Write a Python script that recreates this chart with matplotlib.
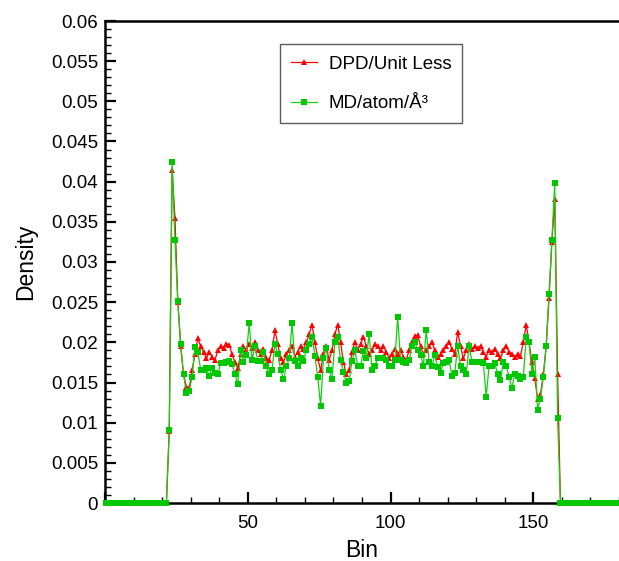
import numpy as np
import matplotlib
matplotlib.use("Agg")
import matplotlib.pyplot as plt
from matplotlib.ticker import MultipleLocator, FuncFormatter

plt.rcParams['font.family'] = ['Liberation Sans', 'DejaVu Sans']

# ---- data ----
n_bins = 180
bin_centers = np.arange(n_bins) + 0.5

lead_zeros = 22   # bins before the first wall

md_core = [
    0.0091, 0.0425, 0.0327, 0.0251, 0.0198, 0.0160, 0.0137, 0.0140, 0.0157, 0.0194,   # 22-31
    0.0188, 0.0166, 0.0166, 0.0168, 0.0158, 0.0168, 0.0162, 0.0160, 0.0174, 0.0174,   # 32-41
    0.0176, 0.0177, 0.0173, 0.0160, 0.0148, 0.0190, 0.0176, 0.0184, 0.0224, 0.0178,   # 42-51
    0.0195, 0.0177, 0.0177, 0.0188, 0.0170, 0.0160, 0.0166, 0.0198, 0.0186, 0.0166,   # 52-61
    0.0154, 0.0170, 0.0180, 0.0224, 0.0177, 0.0171, 0.0180, 0.0177, 0.0190, 0.0198,   # 62-71
    0.0207, 0.0183, 0.0157, 0.0121, 0.0180, 0.0193, 0.0165, 0.0154, 0.0200, 0.0207,   # 72-81
    0.0178, 0.0163, 0.0150, 0.0152, 0.0177, 0.0190, 0.0171, 0.0171, 0.0189, 0.0181,   # 82-91
    0.0210, 0.0165, 0.0170, 0.0181, 0.0181, 0.0180, 0.0178, 0.0171, 0.0171, 0.0178,   # 92-101
    0.0231, 0.0178, 0.0176, 0.0174, 0.0178, 0.0196, 0.0200, 0.0191, 0.0184, 0.0171,   # 102-111
    0.0215, 0.0176, 0.0171, 0.0184, 0.0169, 0.0162, 0.0174, 0.0176, 0.0178, 0.0158,   # 112-121
    0.0162, 0.0196, 0.0171, 0.0165, 0.0161, 0.0195, 0.0176, 0.0176, 0.0176, 0.0176,   # 122-131
    0.0174, 0.0132, 0.0171, 0.0171, 0.0174, 0.0161, 0.0153, 0.0176, 0.0171, 0.0157,   # 132-141
    0.0143, 0.0161, 0.0158, 0.0154, 0.0157, 0.0207, 0.0200, 0.0161, 0.0182, 0.0116,   # 142-151
    0.0130, 0.0157, 0.0195, 0.0260, 0.0327, 0.0398, 0.0106,                           # 152-158
]

dpd_core = [
    0.0090, 0.0415, 0.0355, 0.0250, 0.0195, 0.0160, 0.0145, 0.0143, 0.0165, 0.0185,   # 22-31
    0.0205, 0.0195, 0.0188, 0.0180, 0.0188, 0.0182, 0.0178, 0.0190, 0.0195, 0.0193,   # 32-41
    0.0198, 0.0197, 0.0185, 0.0175, 0.0168, 0.0185, 0.0195, 0.0190, 0.0198, 0.0193,   # 42-51
    0.0200, 0.0190, 0.0185, 0.0192, 0.0180, 0.0178, 0.0190, 0.0215, 0.0198, 0.0180,   # 52-61
    0.0175, 0.0185, 0.0190, 0.0195, 0.0182, 0.0188, 0.0195, 0.0192, 0.0200, 0.0210,   # 62-71
    0.0222, 0.0200, 0.0180, 0.0165, 0.0185, 0.0195, 0.0178, 0.0190, 0.0210, 0.0222,   # 72-81
    0.0200, 0.0175, 0.0160, 0.0165, 0.0188, 0.0200, 0.0190, 0.0198, 0.0207, 0.0195,   # 82-91
    0.0185, 0.0190, 0.0198, 0.0195, 0.0190, 0.0195, 0.0188, 0.0180, 0.0185, 0.0192,   # 92-101
    0.0185, 0.0190, 0.0182, 0.0178, 0.0190, 0.0200, 0.0208, 0.0209, 0.0195, 0.0185,   # 102-111
    0.0190, 0.0195, 0.0200, 0.0190, 0.0182, 0.0185, 0.0190, 0.0195, 0.0200, 0.0192,   # 112-121
    0.0185, 0.0213, 0.0195, 0.0180, 0.0190, 0.0198, 0.0192, 0.0195, 0.0193, 0.0195,   # 122-131
    0.0188, 0.0182, 0.0190, 0.0188, 0.0192, 0.0185, 0.0180, 0.0190, 0.0195, 0.0188,   # 132-141
    0.0185, 0.0182, 0.0185, 0.0183, 0.0200, 0.0222, 0.0200, 0.0175, 0.0155, 0.0130,   # 142-151
    0.0135, 0.0160, 0.0195, 0.0255, 0.0325, 0.0378, 0.0160,                           # 152-158
]

md_density = [0.0] * lead_zeros + md_core + [0.0] * (n_bins - lead_zeros - len(md_core))
dpd_density = [0.0] * lead_zeros + dpd_core + [0.0] * (n_bins - lead_zeros - len(dpd_core))

series_labels = ["DPD/Unit Less", "MD/atom/Å³"]

# ---- figure ----
fig = plt.figure(figsize=(6.19, 5.61), dpi=100)
ax = fig.add_axes([105 / 619, 58 / 561, 514 / 619, 482 / 561])

ax.plot(bin_centers, dpd_density, color='#ff0000', lw=0.9, marker='^',
        markersize=3.8, markeredgewidth=0, label=series_labels[0], clip_on=False, zorder=3)
ax.plot(bin_centers, md_density, color='#10d010', lw=0.9, marker='s',
        markersize=4.4, markeredgewidth=0, markerfacecolor='#00c800',
        label=series_labels[1], clip_on=False, zorder=4)

ax.set_xlim(0, 180)
ax.set_ylim(0, 0.06)

ax.xaxis.set_major_locator(MultipleLocator(50))
ax.xaxis.set_minor_locator(MultipleLocator(10))
ax.yaxis.set_major_locator(MultipleLocator(0.005))
ax.yaxis.set_minor_locator(MultipleLocator(0.001))

def yfmt(v, pos):
    s = f"{v:.3f}".rstrip('0').rstrip('.')
    return s if s else "0"

def xfmt(v, pos):
    iv = int(round(v))
    return "" if iv == 0 else f"{iv}"

ax.yaxis.set_major_formatter(FuncFormatter(yfmt))
ax.xaxis.set_major_formatter(FuncFormatter(xfmt))

ax.tick_params(which='major', direction='in', length=8, width=1.6, labelsize=13.5,
               top=False, right=False)
ax.tick_params(axis='y', which='major', pad=5)
ax.tick_params(axis='x', which='major', pad=9)
ax.tick_params(which='minor', direction='in', length=4.5, width=1.0, top=False, right=False)

for side in ['left', 'bottom', 'top']:
    ax.spines[side].set_linewidth(1.8)
ax.spines['right'].set_visible(False)

ax.set_xlabel("Bin", fontsize=16.5, labelpad=5)
ax.set_ylabel("Density", fontsize=16.5, labelpad=10)

leg = ax.legend(loc='upper left', bbox_to_anchor=(0.340, 0.952), borderaxespad=0,
                fontsize=13.5, frameon=True, fancybox=False, edgecolor='#333333',
                labelspacing=1.2, handlelength=1.4, handletextpad=0.6,
                borderpad=0.6)
leg.get_frame().set_linewidth(1.0)
leg.set_zorder(10)

fig.savefig("out.png", dpi=100)
